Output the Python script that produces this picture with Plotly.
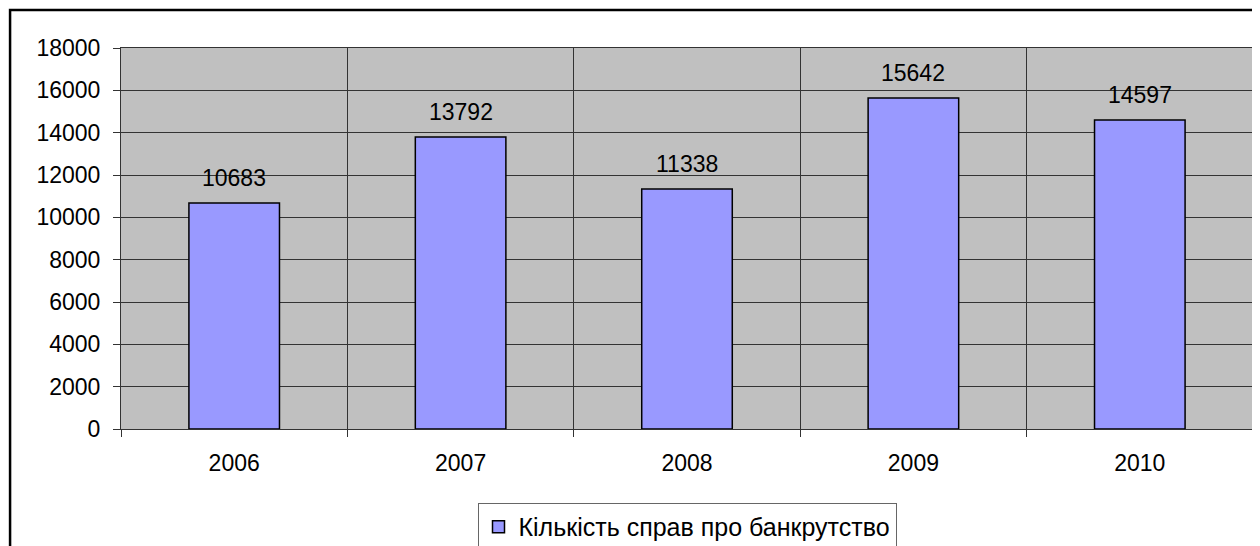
import plotly.graph_objects as go

years = ["2006", "2007", "2008", "2009", "2010"]
cases = [10683, 13792, 11338, 15642, 14597]
series_name = "Кількість справ про банкрутство"
y_ticks = [0, 2000, 4000, 6000, 8000, 10000, 12000, 14000, 16000, 18000]

FONT = "Liberation Sans, Arial, sans-serif"
FS = 23

fig = go.Figure()
fig.add_trace(go.Bar(
    x=years, y=cases, name=series_name,
    marker=dict(color="#9999FF", line=dict(color="black", width=1.5)),
    width=0.4, showlegend=True,
))

for i, v in enumerate(cases):
    fig.add_annotation(x=i, y=v, text=str(v), showarrow=False,
                       yanchor="middle", yshift=25,
                       font=dict(family=FONT, size=FS, color="black"))

# page body has an 8px default margin, so figure is sized to fit the window
fig.update_layout(
    width=1252, height=538,
    margin=dict(l=113, r=7, t=40, b=117, autoexpand=False),
    paper_bgcolor="white", plot_bgcolor="#C0C0C0",
    font=dict(family=FONT, size=FS, color="black"),
    showlegend=True,
    legend=dict(orientation="h", x=0.5, xanchor="center", y=-0.194, yanchor="top",
                bordercolor="#666666", borderwidth=1, bgcolor="white",
                font=dict(family=FONT, size=25)),
    bargap=0.6,
)
fig.update_xaxes(
    type="category", tickson="boundaries", ticks="outside", ticklen=7,
    tickcolor="#333333", showgrid=True, gridcolor="#333333", gridwidth=1,
    showline=True, linecolor="#333333", linewidth=1, mirror=True,
    tickfont=dict(family=FONT, size=FS), range=[-0.5, 4.5],
    ticklabelstandoff=13,
)
fig.update_yaxes(
    range=[0, 18000], tickvals=y_ticks, tickformat="d", ticks="outside", ticklen=7,
    tickcolor="#333333", showgrid=True, gridcolor="#333333", gridwidth=1,
    showline=True, linecolor="#333333", linewidth=1, mirror=True,
    zeroline=False, tickfont=dict(family=FONT, size=FS),
    ticklabelstandoff=8,
)

# outer chart-area frame
fig.add_shape(type="rect", xref="paper", yref="paper",
              x0=-0.098, x1=1.05, y0=-0.35, y1=1.0997,
              line=dict(color="black", width=2.5), layer="above")

fig.write_html("out.html")
